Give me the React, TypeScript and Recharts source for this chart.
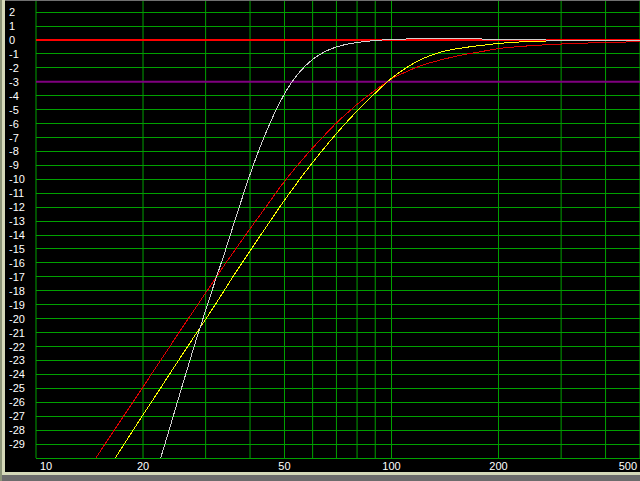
import React from "react";
import {
  LineChart,
  Line,
  XAxis,
  YAxis,
  ReferenceLine,
} from "recharts";

// frequency points (Hz) and the three response curves (dB)
const freqs = [
  10, 12, 14, 15, 17, 20, 22, 24, 26, 28, 30, 32, 34, 36, 38, 40, 43, 45, 48, 50,
  52, 55, 60, 65, 70, 75, 80, 85, 90, 100, 110, 120, 140, 160, 180, 200, 250, 300,
  400, 500,
];

const redCurve = [
  -36.4, -33.4, -30.85, -29.7, -27.6, -24.9, -23.3, -21.85, -20.5, -19.3, -18.15,
  -17.1, -16.1, -15.2, -14.35, -13.55, -12.45, -11.75, -10.75, -10.15, -9.6,
  -8.85, -7.75, -6.8, -5.95, -5.25, -4.62, -4.08, -3.6, -2.8, -2.28, -1.88,
  -1.38, -1.05, -0.82, -0.62, -0.4, -0.29, -0.18, -0.12,
];

const yellowCurve = [
  -39.0, -35.8, -33.1, -31.9, -29.7, -26.9, -25.3, -23.8, -22.45, -21.2, -20.05,
  -18.95, -17.9, -16.9, -16.0, -15.15, -13.95, -13.2, -12.15, -11.5, -10.9,
  -10.05, -8.79, -7.69, -6.72, -5.86, -5.1, -4.42, -3.81, -2.75, -2.0, -1.45,
  -0.82, -0.55, -0.38, -0.25, -0.1, -0.06, -0.05, -0.05,
];

const whiteCurve = [
  null, null, null, null, null, -34.2, -30.7, -27.5, -24.5, -21.8, -19.4, -17.2,
  -15.2, -13.2, -11.35, -9.65, -7.48, -6.26, -4.72, -3.87, -3.16, -2.33, -1.39,
  -0.83, -0.5, -0.3, -0.18, -0.1, -0.04, 0.04, 0.07, 0.08, 0.08, 0.08, 0.07,
  0.07, 0.03, -0.03, -0.03, -0.03,
];

const xGrid = [10, 20, 30, 40, 50, 60, 70, 80, 90, 100, 200, 300, 400, 500];
const xLabels = [10, 20, 50, 100, 200, 500];
const yTicks = Array.from({ length: 33 }, (_, i) => 2 - i); // 2 .. -30
const zeroLine = 0;
const minus3Line = -3;

const data = freqs.map((f, i) => ({
  f,
  red: redCurve[i],
  yellow: yellowCurve[i],
  white: whiteCurve[i],
}));

const FONT = "'Liberation Sans', Arial, sans-serif";
const GRID = "#00a000";

function XTick(props: any) {
  const { x, payload } = props;
  const v = payload.value;
  if (!xLabels.includes(v)) return null;
  let anchor: "start" | "middle" | "end" = "middle";
  let dx = 0;
  if (v === 10) {
    anchor = "start";
    dx = 4;
  }
  if (v === 500) {
    anchor = "end";
    dx = -3;
  }
  return (
    <text x={x + dx} y={470} textAnchor={anchor} fill="#ffffff" fontSize={11} fontFamily={FONT}>
      {v}
    </text>
  );
}

function YTick(props: any) {
  const { y, payload } = props;
  if (payload.value === -30) return null;
  return (
    <text x={9} y={y + 4} textAnchor="start" fill="#ffffff" fontSize={11} fontFamily={FONT}>
      {payload.value}
    </text>
  );
}

const css = `
.hline line,
.recharts-line-curve { shape-rendering: crispEdges; }
`;

export default function App() {
  return (
    <div style={{ position: "absolute", left: 0, top: 0, width: 640, height: 481, background: "#000" }}>
      <style>{css}</style>
      <LineChart width={640} height={481} data={data} margin={{ top: 0, right: 0, bottom: 0, left: 0 }}>
        <XAxis
          dataKey="f"
          type="number"
          scale="log"
          domain={[10, 500]}
          ticks={xGrid}
          interval={0}
          allowDataOverflow
          height={23}
          axisLine={false}
          tickLine={false}
          tick={<XTick />}
        />
        <YAxis
          type="number"
          domain={[-30, 2.87]}
          ticks={yTicks}
          interval={0}
          allowDataOverflow
          width={36}
          axisLine={false}
          tickLine={false}
          tick={<YTick />}
        />
        {xGrid.map((v) => (
          <ReferenceLine key={"x" + v} x={v} stroke={GRID} strokeWidth={1} />
        ))}
        {yTicks
          .filter((v) => v !== zeroLine && v !== minus3Line)
          .map((v) => (
            <ReferenceLine key={"y" + v} y={v} stroke={GRID} strokeWidth={1} className="hline" />
          ))}
        <ReferenceLine key="zero" y={zeroLine} stroke="#ff0000" strokeWidth={2} />
        <ReferenceLine key="m3" y={minus3Line} stroke="#800080" strokeWidth={2} />
        <Line dataKey="red" stroke="#e00000" strokeWidth={1} dot={false} type="monotone" isAnimationActive={false} />
        <Line dataKey="yellow" stroke="#ffff00" strokeWidth={1} dot={false} type="monotone" isAnimationActive={false} />
        <Line dataKey="white" stroke="#d0d0d0" strokeWidth={1} dot={false} type="monotone" isAnimationActive={false} />
      </LineChart>
      <div style={{ position: "absolute", left: 0, top: 0, width: 2, height: 481, background: "#8c9478" }} />
      <div style={{ position: "absolute", left: 2, top: 0, width: 3, height: 475, background: "#d4d8b8" }} />
      <div style={{ position: "absolute", left: 2, top: 472, width: 638, height: 3, background: "#d4d8b8" }} />
      <div style={{ position: "absolute", left: 2, top: 475, width: 638, height: 6, background: "#6c6c6c" }} />
      <div style={{ position: "absolute", left: 5, top: 0, width: 635, height: 1, background: "#707070" }} />
    </div>
  );
}
